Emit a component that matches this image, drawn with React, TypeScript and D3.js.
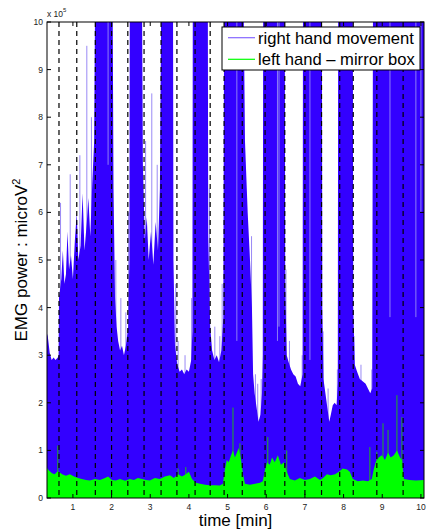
import React from "react";
import * as d3 from "d3";

// time in minutes, power in units of 10^5 microV^2
const blueEnvelope: [number, number][] = [
  [0.33, 3.45], [0.35, 3.4], [0.4, 3.05], [0.45, 2.9], [0.5, 2.95], [0.55, 2.9], [0.61, 2.95], [0.63, 3.0],
  [0.64, 4.2], [0.7, 4.6], [0.74, 5.2], [0.78, 4.5], [0.82, 4.7], [0.86, 5.6], [0.9, 4.8], [0.95, 5.1],
  [1.0, 4.6], [1.05, 5.4], [1.1, 6.0], [1.14, 5.0], [1.2, 5.3], [1.25, 6.4], [1.3, 5.2], [1.36, 5.8],
  [1.4, 6.3], [1.45, 5.5], [1.5, 6.6], [1.55, 7.5], [1.57, 10], [2.03, 10],
  [2.05, 6.5], [2.09, 4.2], [2.13, 3.6], [2.17, 3.3], [2.22, 3.1], [2.27, 3.2], [2.32, 3.0], [2.37, 3.2],
  [2.43, 3.6], [2.46, 5.0], [2.47, 10], [2.79, 10],
  [2.81, 7.0], [2.86, 5.4], [2.91, 5.9], [2.96, 5.0], [3.02, 5.6], [3.08, 4.9], [3.14, 5.8], [3.2, 5.2],
  [3.25, 6.5], [3.28, 10], [3.59, 10],
  [3.6, 5.0], [3.64, 3.2], [3.7, 2.8], [3.76, 2.65], [3.82, 2.7], [3.88, 2.6], [3.94, 2.7], [4.0, 2.65],
  [4.06, 2.9], [4.09, 3.5], [4.1, 10], [4.49, 10],
  [4.5, 5.5], [4.55, 3.6], [4.6, 3.1], [4.66, 2.9], [4.72, 3.0], [4.78, 2.85], [4.84, 3.1], [4.89, 3.8],
  [4.91, 10], [5.42, 10], [5.45, 7.5], [5.52, 6.0], [5.58, 5.0], [5.63, 4.0],
  [5.66, 2.6], [5.7, 2.2], [5.75, 1.9], [5.8, 1.6], [5.85, 1.75], [5.89, 2.2], [5.91, 3.0], [5.92, 10], [6.48, 10],
  [6.49, 4.5], [6.53, 3.0], [6.58, 2.85], [6.64, 2.7], [6.7, 2.6], [6.76, 2.55], [6.82, 2.4], [6.88, 2.35],
  [6.94, 2.6], [6.95, 10], [7.44, 10],
  [7.45, 4.0], [7.48, 2.5], [7.53, 2.2], [7.58, 1.9], [7.63, 1.6], [7.67, 1.75], [7.72, 1.95], [7.77, 2.0],
  [7.82, 1.95], [7.85, 2.4], [7.86, 10], [8.24, 10],
  [8.25, 4.0], [8.29, 2.8], [8.35, 2.65], [8.42, 2.5], [8.5, 2.45], [8.57, 2.4], [8.63, 2.3], [8.69, 2.2],
  [8.74, 2.3], [8.76, 10], [10.08, 10],
];

// thin light spikes above the envelope
const blueSpikes: [number, number][] = [
  [0.68, 6.2], [0.93, 6.8], [1.18, 7.2], [1.36, 9.5], [1.48, 8.0],
  [2.11, 5.0], [2.24, 4.2], [2.37, 3.9], [2.44, 6.0],
  [2.88, 7.5], [3.04, 8.5], [3.18, 7.0],
  [3.66, 4.5], [3.72, 3.3], [3.9, 3.0], [4.07, 4.2],
  [4.53, 6.5], [4.67, 3.6], [4.8, 3.4], [4.86, 4.5],
  [5.62, 5.5], [5.72, 2.6], [5.78, 2.4], [5.87, 2.5],
  [6.51, 4.8], [6.6, 3.3], [6.93, 3.0],
  [7.47, 3.5], [7.6, 2.3], [7.84, 2.7],
  [8.27, 3.4], [8.45, 2.8], [8.73, 2.7],
];

// lighter columns inside the high-activity blocks
const blueGaps: [number, number][] = [
  [1.91, 7.0], [5.24, 3.3], [6.29, 3.3], [6.33, 3.6], [7.13, 2.9], [9.2, 3.8], [9.87, 3.8], [10.0, 6.0],
];

const greenEnvelope: [number, number][] = [
  [0.33, 0.63], [0.38, 0.58], [0.46, 0.52], [0.53, 0.5], [0.59, 0.55], [0.64, 0.55], [0.72, 0.5],
  [0.82, 0.47], [0.92, 0.5], [1.03, 0.45], [1.13, 0.42], [1.23, 0.4], [1.34, 0.38], [1.44, 0.37],
  [1.57, 0.4], [1.7, 0.38], [1.83, 0.42], [1.91, 0.45], [2.01, 0.38], [2.11, 0.37], [2.22, 0.4],
  [2.35, 0.36], [2.47, 0.4], [2.58, 0.38], [2.68, 0.42], [2.79, 0.4], [2.89, 0.38], [2.99, 0.37],
  [3.12, 0.42], [3.25, 0.4], [3.38, 0.45], [3.51, 0.48], [3.61, 0.42], [3.72, 0.5], [3.82, 0.45],
  [3.92, 0.5], [4.0, 0.55], [4.08, 0.4], [4.18, 0.32], [4.29, 0.3], [4.42, 0.28], [4.54, 0.27],
  [4.67, 0.27], [4.8, 0.26], [4.88, 0.3], [4.93, 0.6], [4.98, 0.8], [5.03, 0.75], [5.09, 0.9],
  [5.14, 1.0], [5.19, 0.85], [5.24, 0.95], [5.29, 1.05], [5.35, 0.8], [5.4, 0.5], [5.45, 0.3],
  [5.58, 0.28], [5.71, 0.3], [5.84, 0.32], [5.91, 0.35], [5.97, 0.6], [6.02, 0.75], [6.09, 0.7],
  [6.15, 0.85], [6.22, 0.75], [6.3, 0.9], [6.38, 0.7], [6.46, 0.75], [6.53, 0.55], [6.61, 0.4],
  [6.74, 0.37], [6.87, 0.42], [7.0, 0.38], [7.13, 0.4], [7.26, 0.45], [7.39, 0.38], [7.47, 0.42],
  [7.57, 0.5], [7.67, 0.48], [7.78, 0.5], [7.88, 0.55], [7.98, 0.62], [8.09, 0.6], [8.16, 0.55],
  [8.24, 0.4], [8.37, 0.35], [8.5, 0.37], [8.63, 0.35], [8.73, 0.4], [8.78, 0.6], [8.83, 0.75],
  [8.91, 0.85], [8.99, 0.9], [9.07, 0.8], [9.15, 0.95], [9.22, 0.85], [9.3, 0.9], [9.38, 1.0],
  [9.46, 0.85], [9.51, 0.8], [9.56, 0.4], [9.71, 0.38], [9.87, 0.37], [10.08, 0.38],
];

const greenSpikes: [number, number][] = [
  [0.61, 1.1], [3.72, 0.62], [3.92, 0.65], [5.14, 1.9], [5.32, 1.15], [6.04, 1.28], [6.53, 1.0],
  [8.68, 1.07], [8.86, 0.97], [9.02, 1.57], [9.15, 1.43], [9.38, 2.16], [9.51, 1.7],
];

const eventTimes = [
  0.64, 1.1, 1.58, 2.0, 2.42, 2.84, 3.28, 3.69, 4.16, 4.55, 4.91, 5.38, 5.97, 6.48, 7.0, 7.43, 7.9, 8.25,
  8.86, 9.54,
];

const xTicks = [1, 2, 3, 4, 5, 6, 7, 8, 9, 10];
const yTicks = [0, 1, 2, 3, 4, 5, 6, 7, 8, 9, 10];

const seriesNames = ["right hand movement", "left hand \u2013 mirror box"];
const BLUE = "#3300ff";
const GREEN = "#00ff00";

export default function App() {
  const W = 427;
  const H = 531;
  const left = 47, right = 424, top = 22, bottom = 498;
  const x = d3.scaleLinear().domain([0.33, 10.08]).range([left, right]);
  const y = d3.scaleLinear().domain([0, 10]).range([bottom, top]);

  const area = d3
    .area<[number, number]>()
    .x((d) => x(d[0]))
    .y0(y(0))
    .y1((d) => y(d[1]));

  const font = "Arial, 'Liberation Sans', Helvetica, sans-serif";

  return (
    <svg
      width={W}
      height={H}
      style={{ position: "absolute", left: 0, top: 0, display: "block", background: "#fff" }}
      fontFamily={font}
    >
      <defs>
        <clipPath id="plotClip">
          <rect x={left} y={top} width={right - left} height={bottom - top} />
        </clipPath>
      </defs>
      <rect x={0} y={0} width={W} height={H} fill="#fff" />
      <g clipPath="url(#plotClip)">
        {blueSpikes.map((d, i) => (
          <line
            key={"bs" + i}
            x1={x(d[0])}
            x2={x(d[0])}
            y1={y(0)}
            y2={y(d[1])}
            stroke="#9a8af5"
            strokeWidth={1}
          />
        ))}
        <path d={area(blueEnvelope) || ""} fill={BLUE} />
        {blueGaps.map((d, i) => (
          <line
            key={"bg" + i}
            x1={x(d[0])}
            x2={x(d[0])}
            y1={y(d[1])}
            y2={y(10)}
            stroke="#8f7ef5"
            strokeWidth={1}
          />
        ))}
        {greenSpikes.map((d, i) => (
          <line
            key={"gs" + i}
            x1={x(d[0])}
            x2={x(d[0])}
            y1={y(0)}
            y2={y(d[1])}
            stroke="#22b022"
            strokeWidth={1}
          />
        ))}
        <path d={area(greenEnvelope) || ""} fill={GREEN} />
        {eventTimes.map((t, i) => (
          <line
            key={"ev" + i}
            x1={x(t)}
            x2={x(t)}
            y1={top}
            y2={bottom}
            stroke="#000"
            strokeWidth={1.2}
            strokeDasharray="5,4"
          />
        ))}
      </g>
      {/* axes box */}
      <rect x={left} y={top} width={right - left} height={bottom - top} fill="none" stroke="#000" strokeWidth={1} />
      {yTicks.map((v) => (
        <g key={"yt" + v}>
          <line x1={left} x2={left + 4} y1={y(v)} y2={y(v)} stroke="#000" />
          <line x1={right} x2={right - 4} y1={y(v)} y2={y(v)} stroke="#000" />
          <text x={43} y={y(v) + 3} fontSize={8.5} textAnchor="end" fill="#222">
            {v}
          </text>
        </g>
      ))}
      {xTicks.map((v) => (
        <g key={"xt" + v}>
          <line x1={x(v)} x2={x(v)} y1={bottom} y2={bottom - 4} stroke="#000" />
          <line x1={x(v)} x2={x(v)} y1={top} y2={top + 4} stroke="#000" />
          <text x={x(v)} y={509.5} fontSize={8.5} textAnchor="middle" fill="#222">
            {v}
          </text>
        </g>
      ))}
      <text x={47} y={17} fontSize={8.5} fill="#222">
        x 10
        <tspan fontSize={6} dy={-5}>
          5
        </tspan>
      </text>
      <text x={(left + right) / 2} y={526} fontSize={17} textAnchor="middle" fill="#000">
        time [min]
      </text>
      <text
        transform={`translate(27,${(top + bottom) / 2}) rotate(-90)`}
        fontSize={17}
        textAnchor="middle"
        fill="#000"
      >
        EMG power : microV
        <tspan fontSize={11} dy={-7}>
          2
        </tspan>
      </text>
      {/* legend */}
      <g>
        <rect x={222} y={27} width={198} height={43} fill="#fff" stroke="#000" strokeWidth={1} />
        <line x1={228} x2={255} y1={37.7} y2={37.7} stroke={BLUE} strokeOpacity={0.6} strokeWidth={1.2} />
        <text x={258} y={43.5} fontSize={16.6} fill="#000">
          {seriesNames[0]}
        </text>
        <line x1={228} x2={255} y1={59.3} y2={59.3} stroke={GREEN} strokeWidth={1.2} />
        <text x={258} y={65} fontSize={16.6} fill="#000">
          {seriesNames[1]}
        </text>
      </g>
    </svg>
  );
}
